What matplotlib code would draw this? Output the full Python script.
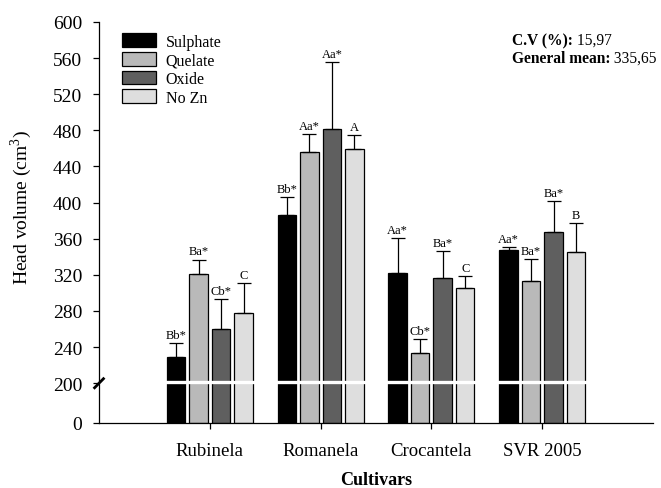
import numpy as np
import matplotlib
matplotlib.use("Agg")
import matplotlib.pyplot as plt
from matplotlib.patches import Patch

cultivars = ["Rubinela", "Romanela", "Crocantela", "SVR 2005"]
treatments = ["Sulphate", "Quelate", "Oxide", "No Zn"]
means = {
    "Sulphate": [229, 386, 322, 347],
    "Quelate":  [321, 456, 233, 313],
    "Oxide":    [260, 482, 317, 367],
    "No Zn":    [278, 459, 305, 345],
}
err_top = {
    "Sulphate": [245, 406, 361, 351],
    "Quelate":  [337, 476, 249, 338],
    "Oxide":    [293, 556, 346, 402],
    "No Zn":    [311, 475, 319, 377],
}
letters = {
    "Sulphate": ["Bb*", "Bb*", "Aa*", "Aa*"],
    "Quelate":  ["Ba*", "Aa*", "Cb*", "Ba*"],
    "Oxide":    ["Cb*", "Aa*", "Ba*", "Ba*"],
    "No Zn":    ["C", "A", "C", "B"],
}
colors = {"Sulphate": "#000000", "Quelate": "#b9b9b9", "Oxide": "#5f5f5f", "No Zn": "#dedede"}
yticks = [0, 200, 240, 280, 320, 360, 400, 440, 480, 520, 560, 600]

plt.rcParams['font.family'] = ['Liberation Serif', 'DejaVu Serif']
plt.rcParams['mathtext.fontset'] = 'custom'
plt.rcParams['mathtext.rm'] = 'Liberation Serif'

BRK = 200.0
LOW = 44.0

def fwd(v):
    v = np.asarray(v, dtype=float)
    return np.where(v >= BRK, v - BRK + LOW, v * LOW / BRK)

def inv(d):
    d = np.asarray(d, dtype=float)
    return np.where(d >= LOW, d - LOW + BRK, d * BRK / LOW)

fig = plt.figure(figsize=(6.61, 4.89), dpi=100)
ax = fig.add_axes([0.1498, 0.133, 0.8382, 0.820])
ax.set_yscale('function', functions=(fwd, inv))

x = np.arange(len(cultivars))
width = 0.167
pitch = 0.203
for i, t in enumerate(treatments):
    pos = x + (i - 1.5) * pitch
    m = np.array(means[t])
    e = np.array(err_top[t]) - m
    ax.bar(pos, m, width, color=colors[t], edgecolor='black', linewidth=0.9, zorder=2, label=t)
    ax.errorbar(pos, m, yerr=[np.zeros_like(e), e], fmt='none', ecolor='black',
                elinewidth=0.9, capsize=4.7, capthick=0.9, zorder=3)
    for p, top, lab in zip(pos, err_top[t], letters[t]):
        ax.annotate(lab, (p, top), xytext=(0, 1.5), textcoords='offset points',
                    ha='center', va='bottom', fontsize=9, zorder=4)

ax.set_xlim(-1, 4)
ax.set_ylim(0, 600)
ax.set_yticks(yticks)
ax.set_yticklabels([str(v) for v in yticks])
ax.set_xticks(x)
ax.set_xticklabels(cultivars)
ax.tick_params(axis='both', direction='out', length=4, width=0.9)
ax.tick_params(axis='y', labelsize=14, pad=8)
ax.tick_params(axis='x', labelsize=13.5, pad=10)
for s in ['top', 'right']:
    ax.spines[s].set_visible(False)
for s in ['left', 'bottom']:
    ax.spines[s].set_linewidth(0.9)

# axis break: white line through bars and slash on the spine
ax.axhline(201, xmin=0.003, xmax=1, color='white', linewidth=2.4, zorder=5)
trans = ax.get_yaxis_transform()
yb = fwd(200)
ax.plot([-0.008, 0.008], [inv(yb - 5), inv(yb + 5)], color='black', lw=2.0,
        transform=trans, clip_on=False, zorder=6)

ax.set_ylabel('Head volume (cm$^3$)', fontsize=14, labelpad=10)
ax.yaxis.set_label_coords(-0.117, 0.54)
ax.set_xlabel('Cultivars', fontsize=13, fontweight='bold', labelpad=8)

handles = [Patch(facecolor=colors[t], edgecolor='black', linewidth=0.9, label=t) for t in treatments]
ax.legend(handles=handles, loc='upper left', bbox_to_anchor=(0.022, 1.0), frameon=False,
          fontsize=11.5, handlelength=2.1, handleheight=0.95, labelspacing=0.15,
          handletextpad=0.6, borderaxespad=0.3)

t1 = ax.text(0.745, 0.955, 'C.V (%):', transform=ax.transAxes, fontsize=11.2,
             fontweight='bold', va='center', ha='left')
ax.annotate(' 15,97', xy=(1, 0.5), xycoords=t1, va='center', ha='left', fontsize=11.2)
t2 = ax.text(0.745, 0.910, 'General mean:', transform=ax.transAxes, fontsize=11.2,
             fontweight='bold', va='center', ha='left')
ax.annotate(' 335,65', xy=(1, 0.5), xycoords=t2, va='center', ha='left', fontsize=11.2)

fig.savefig('out.png', dpi=100)
